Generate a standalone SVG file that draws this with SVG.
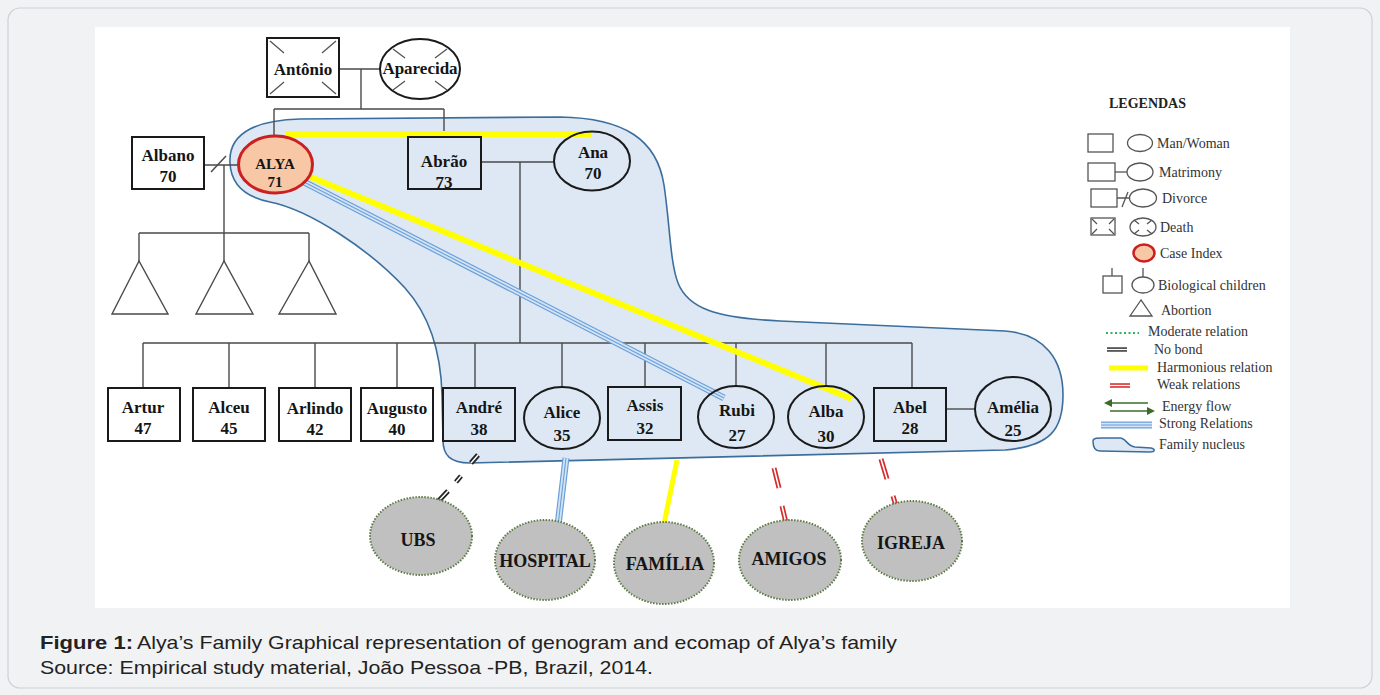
<svg xmlns="http://www.w3.org/2000/svg" width="1380" height="695" viewBox="0 0 1380 695">
<style>
.nm{font-family:"Liberation Serif","Times New Roman",serif;font-weight:bold;font-size:17px;fill:#151515;text-anchor:middle}
.sm{font-size:15px}
.eco{font-family:"Liberation Serif","Times New Roman",serif;font-weight:bold;font-size:18px;fill:#151515;text-anchor:middle}
.lg{font-family:"Liberation Serif","Times New Roman",serif;font-size:14px;fill:#333}
.lgh{font-family:"Liberation Serif","Times New Roman",serif;font-size:14px;font-weight:bold;fill:#222}
.shp{fill:none;stroke:#1a1a1a;stroke-width:2}
.lshp{fill:none;stroke:#555;stroke-width:1.3}
.gl{fill:none;stroke:#4a4a4a;stroke-width:1.4}
.yel{stroke:#ffff00;stroke-width:6;stroke-linecap:butt}
.bl1{stroke:#6a9fd8;stroke-width:7}
.bl2{stroke:#d3e4f6;stroke-width:4.6}
.bl3{stroke:#6a9fd8;stroke-width:1.1}
.red1{stroke:#d42a2a;stroke-width:5}
.red2{stroke:#ffffff;stroke-width:1.6}
.blk1{stroke:#222;stroke-width:5}
.blk2{stroke:#ffffff;stroke-width:1.5}
.eco-node{fill:#c0c0c0;stroke:#5d7b45;stroke-width:2;stroke-dasharray:1.5 1.5}
.case{fill:#f8c8a6;stroke:#cc1f1f;stroke-width:3}
.cap{font-family:"Liberation Sans",Arial,sans-serif;font-size:19px;fill:#222}
</style>
<defs>
<marker id="ah" markerWidth="8" markerHeight="8" refX="6" refY="4" orient="auto" markerUnits="userSpaceOnUse">
<path d="M0,0 L8,4 L0,8 Z" fill="#3d6b2c"/>
</marker>
</defs>
<rect x="0" y="0" width="1380" height="695" fill="#f1f2f4"/>
<rect x="8" y="8" width="1364" height="680" rx="12" fill="#f1f2f4" stroke="#cdd1d6" stroke-width="1.2"/>
<rect x="95" y="27" width="1195" height="581" fill="#ffffff"/>

<g id="family-nucleus">
<path d="M 230,163 C 228,130 262,120 300,119 L 560,117 C 625,118 657,140 664,185 C 670,225 670,262 678,283 C 688,308 715,318 780,321 L 1005,331 C 1045,334 1063,360 1063,395 C 1063,430 1050,446 1005,450 L 470,463 C 450,463 443,455 443,440 L 442,395 C 441,355 432,318 405,288 C 370,250 310,210 270,202 C 245,197 231,185 230,163 Z" fill="#dde8f4" stroke="#3b6e9c" stroke-width="1.6"/>
</g>

<g id="connectors">
<path class="gl" d="M339,69 H380 M361,69 V109 M274,109 H444 M274,109 V136 M444,109 V137"/>
<path class="gl" d="M204,165 H238 M224,165 V233 M139,233 H309 M139,233 V261 M224,233 V261 M309,233 V261"/>
<path class="gl" d="M211,172 L226,156"/>
<path class="gl" d="M481,162 H554 M520,162 V343 M143,343 H912"/>
<path class="gl" d="M143,343 V388 M229,343 V388 M315,343 V388 M397,343 V388 M475,343 V388 M562,343 V387 M645,343 V388 M736,343 V386 M826,343 V386 M912,343 V388"/>
<path class="gl" d="M946,409 H975"/>
<line class="yel" x1="285" y1="134" x2="592" y2="134"/>
<line class="bl1" x1="304" y1="182" x2="724" y2="398"/>
<line class="bl2" x1="304" y1="182" x2="724" y2="398"/>
<line class="bl3" x1="304" y1="182" x2="724" y2="398"/>
<line class="yel" x1="308" y1="176" x2="852" y2="399"/>
<g>
<line class="blk1" x1="471" y1="463" x2="478" y2="455"/><line class="blk2" x1="471" y1="463" x2="478" y2="455"/>
<line class="blk1" x1="456" y1="482" x2="461" y2="476"/><line class="blk2" x1="456" y1="482" x2="461" y2="476"/>
<line class="blk1" x1="431" y1="509" x2="448" y2="491"/><line class="blk2" x1="431" y1="509" x2="448" y2="491"/>
</g>
<line class="bl1" x1="566" y1="458" x2="557" y2="534"/>
<line class="bl2" x1="566" y1="458" x2="557" y2="534"/>
<line class="bl3" x1="566" y1="458" x2="557" y2="534"/>
<line x1="677" y1="460" x2="664" y2="524" stroke="#ffff00" stroke-width="5"/>
<g>
<line class="red1" x1="774" y1="468" x2="779" y2="488"/><line class="red2" x1="774" y1="468" x2="779" y2="488"/>
<line class="red1" x1="782" y1="506" x2="787" y2="527"/><line class="red2" x1="782" y1="506" x2="787" y2="527"/>
<line class="red1" x1="881" y1="459" x2="887" y2="479"/><line class="red2" x1="881" y1="459" x2="887" y2="479"/>
<line class="red1" x1="893" y1="496" x2="899" y2="516"/><line class="red2" x1="893" y1="496" x2="899" y2="516"/>
</g>
</g>

<g id="antonio">
<rect class="shp" x="267" y="38" width="72" height="59"/>
<path class="lshp" d="M270,41 L284,53 M336,41 L322,53 M270,94 L284,82 M336,94 L322,82"/>
<text class="nm" x="303" y="75">Antônio</text>
</g>
<g id="aparecida">
<ellipse class="shp" cx="420" cy="69" rx="40" ry="30"/>
<path class="lshp" d="M393,49 L405,58 M447,49 L435,58 M393,90 L405,81 M447,90 L435,81"/>
<text class="nm" x="420" y="74">Aparecida</text>
</g>
<g id="albano">
<rect class="shp" x="132" y="137" width="72" height="52"/>
<text class="nm" x="168" y="161">Albano</text>
<text class="nm" x="168" y="182">70</text>
</g>
<g id="alya">
<ellipse class="case" cx="275.5" cy="164.5" rx="37" ry="28.5"/>
<text class="nm sm" x="275" y="169">ALYA</text>
<text class="nm sm" x="275" y="187">71</text>
</g>
<g id="abrao">
<rect class="shp" x="408" y="137" width="73" height="52"/>
<text class="nm" x="444" y="167">Abrão</text>
<text class="nm" x="444" y="188">73</text>
</g>
<g id="ana">
<ellipse class="shp" cx="592" cy="161" rx="38" ry="29.5"/>
<text class="nm" x="593" y="158">Ana</text>
<text class="nm" x="593" y="179">70</text>
</g>
<g id="abortions">
<path class="gl" d="M139,261 L112,314 H168 Z"/>
<path class="gl" d="M224,261 L196,314 H253 Z"/>
<path class="gl" d="M309,261 L279,314 H336 Z"/>
</g>
<g id="artur"><rect class="shp" x="108" y="388" width="72" height="53"/><text class="nm" x="143" y="413">Artur</text><text class="nm" x="143" y="434">47</text></g>
<g id="alceu"><rect class="shp" x="193" y="388" width="72" height="53"/><text class="nm" x="229" y="413">Alceu</text><text class="nm" x="229" y="434">45</text></g>
<g id="arlindo"><rect class="shp" x="279" y="388" width="72" height="53"/><text class="nm" x="315" y="414">Arlindo</text><text class="nm" x="315" y="435">42</text></g>
<g id="augusto"><rect class="shp" x="361" y="388" width="72" height="53"/><text class="nm" x="397" y="414">Augusto</text><text class="nm" x="397" y="435">40</text></g>
<g id="andre"><rect class="shp" x="443" y="388" width="72" height="53"/><text class="nm" x="479" y="413">André</text><text class="nm" x="479" y="435">38</text></g>
<g id="alice"><ellipse class="shp" cx="562" cy="418" rx="38" ry="31"/><text class="nm" x="562" y="418">Alice</text><text class="nm" x="562" y="441">35</text></g>
<g id="assis"><rect class="shp" x="608" y="387" width="73" height="53"/><text class="nm" x="645" y="411">Assis</text><text class="nm" x="645" y="434">32</text></g>
<g id="rubi"><ellipse class="shp" cx="736" cy="417" rx="38" ry="31"/><text class="nm" x="737" y="416">Rubi</text><text class="nm" x="737" y="441">27</text></g>
<g id="alba"><ellipse class="shp" cx="826" cy="417" rx="38" ry="31"/><text class="nm" x="826" y="417">Alba</text><text class="nm" x="826" y="442">30</text></g>
<g id="abel"><rect class="shp" x="874" y="388" width="72" height="53"/><text class="nm" x="910" y="413">Abel</text><text class="nm" x="910" y="434">28</text></g>
<g id="amelia"><ellipse class="shp" cx="1013" cy="409" rx="38" ry="32"/><text class="nm" x="1013" y="413">Amélia</text><text class="nm" x="1013" y="436">25</text></g>

<g id="ubs"><ellipse class="eco-node" cx="421" cy="536" rx="51" ry="39"/><text class="eco" x="418" y="546">UBS</text></g>
<g id="hospital"><ellipse class="eco-node" cx="545" cy="560" rx="50" ry="40"/><text class="eco" x="545" y="567">HOSPITAL</text></g>
<g id="familia"><ellipse class="eco-node" cx="664" cy="563" rx="50" ry="41"/><text class="eco" x="665" y="570">FAMÍLIA</text></g>
<g id="amigos"><ellipse class="eco-node" cx="790" cy="560" rx="51" ry="40"/><text class="eco" x="789" y="565">AMIGOS</text></g>
<g id="igreja"><ellipse class="eco-node" cx="912" cy="541" rx="50" ry="40"/><text class="eco" x="911" y="549">IGREJA</text></g>

<g id="legend">
<text class="lgh" x="1109" y="108">LEGENDAS</text>
<rect class="lshp" x="1088" y="134" width="25" height="18"/>
<ellipse class="lshp" cx="1140" cy="143" rx="12.5" ry="8.5"/>
<text class="lg" x="1157" y="148">Man/Woman</text>
<rect class="lshp" x="1088" y="163" width="27" height="18"/>
<path class="lshp" d="M1115,172 H1127"/>
<ellipse class="lshp" cx="1140" cy="172" rx="13" ry="9"/>
<text class="lg" x="1159" y="177">Matrimony</text>
<rect class="lshp" x="1091" y="189" width="26" height="18"/>
<path class="lshp" d="M1117,198 H1130 M1122,207 L1128,192"/>
<ellipse class="lshp" cx="1143" cy="198" rx="13.5" ry="9"/>
<text class="lg" x="1162" y="203">Divorce</text>
<rect class="lshp" x="1091" y="218" width="24" height="17"/>
<path class="lshp" d="M1092,219 L1097,224 M1114,219 L1109,224 M1092,234 L1097,229 M1114,234 L1109,229"/>
<ellipse class="lshp" cx="1143" cy="227" rx="13" ry="9"/>
<path class="lshp" d="M1134,220 L1139,224 M1152,220 L1147,224 M1134,234 L1139,230 M1152,234 L1147,230"/>
<text class="lg" x="1160" y="232">Death</text>
<ellipse cx="1144" cy="253" rx="10.5" ry="8.5" fill="#f8c8a6" stroke="#cc1f1f" stroke-width="2.5"/>
<text class="lg" x="1160" y="258">Case Index</text>
<rect class="lshp" x="1103" y="276" width="19" height="17"/>
<path class="lshp" d="M1112,268 V276 M1143,268 V277"/>
<ellipse class="lshp" cx="1143" cy="285" rx="11" ry="8"/>
<text class="lg" x="1158" y="290">Biological  children</text>
<path class="lshp" d="M1141,300 L1130,316 H1152 Z"/>
<text class="lg" x="1161" y="315">Abortion</text>
<line x1="1106" y1="333" x2="1139" y2="333" stroke="#2fb35a" stroke-width="2" stroke-dasharray="2 2.5"/>
<text class="lg" x="1148" y="336">Moderate relation</text>
<line class="blk1" x1="1107" y1="349.5" x2="1127" y2="349.5" style="stroke:#444;stroke-width:4.5"/>
<line class="blk2" x1="1107" y1="349.5" x2="1127" y2="349.5" style="stroke-width:1.2"/>
<text class="lg" x="1154" y="354">No bond</text>
<line x1="1109" y1="368" x2="1148" y2="368" stroke="#ffff00" stroke-width="5"/>
<text class="lg" x="1157" y="372">Harmonious relation</text>
<line class="red1" x1="1110" y1="385.5" x2="1130" y2="385.5" style="stroke-width:4.5"/>
<line class="red2" x1="1110" y1="385.5" x2="1130" y2="385.5" style="stroke-width:1.4"/>
<text class="lg" x="1157" y="389">Weak relations</text>
<line x1="1148" y1="403" x2="1106" y2="403" stroke="#3d6b2c" stroke-width="1.5" marker-end="url(#ah)"/>
<line x1="1110" y1="411" x2="1153" y2="411" stroke="#3d6b2c" stroke-width="1.5" marker-end="url(#ah)"/>
<text class="lg" x="1162" y="411">Energy flow</text>
<line class="bl1" x1="1101" y1="425" x2="1152" y2="425"/>
<line class="bl2" x1="1101" y1="425" x2="1152" y2="425"/>
<line class="bl3" x1="1101" y1="425" x2="1152" y2="425"/>
<text class="lg" x="1159" y="428">Strong  Relations</text>
<path d="M1093,441 C1093,437 1100,438 1110,438 L1120,438 C1126,438 1127,446 1135,447 L1151,448 C1156,449 1155,452 1150,452 L1100,451 C1094,451 1093,446 1093,441 Z" fill="#dde8f4" stroke="#3b6e9c" stroke-width="1.5"/>
<text class="lg" x="1159" y="449">Family  nucleus</text>
</g>

<g id="caption">
<text class="cap" x="40" y="649" font-weight="bold" textLength="93" lengthAdjust="spacingAndGlyphs">Figure 1:</text>
<text class="cap" x="137" y="649" textLength="760" lengthAdjust="spacingAndGlyphs">Alya’s Family Graphical representation of genogram and ecomap of Alya’s family</text>
<text class="cap" x="40" y="674" textLength="613" lengthAdjust="spacingAndGlyphs">Source: Empirical study material, João Pessoa -PB, Brazil, 2014.</text>
</g>
</svg>
